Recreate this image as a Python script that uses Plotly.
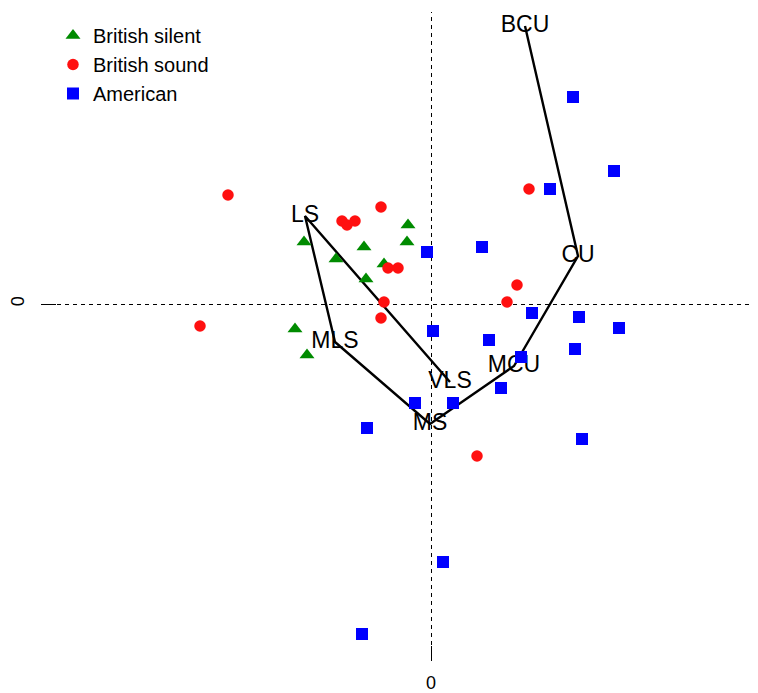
import plotly.graph_objects as go

# British silent (triangles)
silent_x = [-0.115, -0.12, -0.635, -0.335, -0.475, -0.235, -0.325, -0.68, -0.62]
silent_y = [0.395, 0.31, 0.31, 0.285, 0.225, 0.2, 0.125, -0.125, -0.255]

# British sound (circles)
sound_x = [-1.015, -1.155, -0.25, -0.445, -0.42, -0.38, -0.215, -0.165, -0.235, -0.25, 0.49, 0.43, 0.38, 0.23]
sound_y = [0.545, -0.11, 0.485, 0.415, 0.395, 0.415, 0.18, 0.18, 0.01, -0.07, 0.575, 0.095, 0.01, -0.76]

# American (squares)
amer_x = [0.71, 0.915, 0.595, 0.255, -0.02, 0.505, 0.74, 0.94, 0.01, 0.29, 0.72, 0.45, 0.35, -0.08, 0.11, 0.755, 0.06, -0.32, -0.345]
amer_y = [1.035, 0.665, 0.575, 0.285, 0.26, -0.045, -0.065, -0.12, -0.135, -0.18, -0.225, -0.265, -0.42, -0.495, -0.495, -0.675, -1.29, -0.62, -1.65]

# Shot-scale categories (column points), joined in order
shot_labels = ["BCU", "CU", "MCU", "MS", "MLS", "LS", "VLS"]
shot_x = [0.47, 0.735, 0.415, -0.005, -0.48, -0.63, 0.095]
shot_y = [1.39, 0.24, -0.31, -0.6, -0.19, 0.44, -0.39]

FONT = "Liberation Sans, Arial, Helvetica, sans-serif"
W, H = 750, 685
XR = [-1.87, 1.625]
YR = [-1.705, 1.46]
# half-pixel nudge so the 1px dashed reference lines render crisp
HALF_PX_X = 0.5 * (XR[1] - XR[0]) / 699
HALF_PX_Y = 0.5 * (YR[1] - YR[0]) / 633

fig = go.Figure()

fig.add_trace(go.Scatter(
    x=shot_x, y=shot_y, mode="lines+text", text=shot_labels,
    textposition="middle center", textfont=dict(size=23, color="black", family=FONT),
    line=dict(color="black", width=2.4), showlegend=False, hoverinfo="skip"))

fig.add_trace(go.Scatter(
    x=silent_x, y=silent_y, mode="markers", name="British silent",
    marker=dict(symbol="triangle-up", size=13, color="#008B00", line=dict(width=0))))
fig.add_trace(go.Scatter(
    x=sound_x, y=sound_y, mode="markers", name="British sound",
    marker=dict(symbol="circle", size=11.5, color="#FF1010", line=dict(width=0))))
fig.add_trace(go.Scatter(
    x=amer_x, y=amer_y, mode="markers", name="American",
    marker=dict(symbol="square", size=12, color="#0000FF", line=dict(width=0))))

fig.add_vline(x=0 + HALF_PX_X, line=dict(color="black", width=1, dash="4px,4px"), layer="below")
fig.add_hline(y=0 - HALF_PX_Y, line=dict(color="black", width=1, dash="4px,4px"), layer="below")

fig.update_layout(
    width=W, height=H,
    margin=dict(l=49, r=2, t=4, b=48, autoexpand=False),
    paper_bgcolor="white", plot_bgcolor="white",
    font=dict(family=FONT, color="black"),
    showlegend=True,
    legend=dict(xref="container", yref="container", x=45/W, y=1-8/H,
                xanchor="left", yanchor="top", font=dict(size=20, family=FONT),
                bgcolor="rgba(0,0,0,0)", tracegroupgap=0, itemwidth=30),
    xaxis=dict(range=XR, showgrid=False, zeroline=False, showline=False,
               tickvals=[0], ticktext=["0"], ticks="outside", ticklen=15, tickwidth=1,
               tickcolor="black", tickfont=dict(size=18, family=FONT), ticklabelstandoff=6),
    yaxis=dict(range=YR, showgrid=False, zeroline=False, showline=False,
               tickvals=[0], ticktext=["0"], ticks="outside", ticklen=15, tickwidth=1,
               tickcolor="black", tickangle=-90, tickfont=dict(size=18, family=FONT),
               ticklabelstandoff=10),
)

fig.write_html("out.html")
